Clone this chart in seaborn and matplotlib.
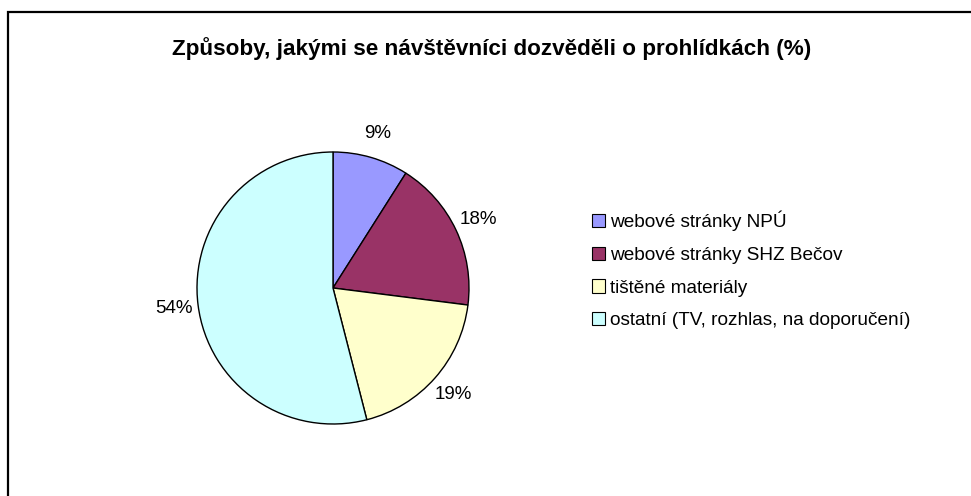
import matplotlib
matplotlib.use("Agg")
import matplotlib.pyplot as plt
import matplotlib.patches as mpatches
import seaborn as sns

categories = ["webové stránky NPÚ", "webové stránky SHZ Bečov",
              "tištěné materiály", "ostatní (TV, rozhlas, na doporučení)"]
shares = [9, 18, 19, 54]
colors = ["#9999FF", "#993366", "#FFFFCC", "#CCFFFF"]

sns.set_theme(style="white")
plt.rcParams["font.family"] = ["Liberation Sans", "DejaVu Sans"]
plt.rcParams["text.color"] = "black"

fig = plt.figure(figsize=(9.71, 4.96), dpi=100)

# pie area: square box in pixels
ax = fig.add_axes([197 / 971, 72 / 496, 272 / 971, 272 / 496])
wedges, texts, autotexts = ax.pie(
    shares, colors=colors, startangle=90, counterclock=False,
    autopct="%1.0f%%", pctdistance=1.18, radius=1,
    wedgeprops=dict(edgecolor="black", linewidth=1.0),
    textprops=dict(fontsize=13.5, color="black"))
ax.set_xlim(-1, 1)
ax.set_ylim(-1, 1)
ax.axis("off")

fig.text(0.506, 0.903, "Způsoby, jakými se návštěvníci dozvěděli o prohlídkách (%)",
         ha="center", va="center", fontsize=16.2, fontweight="bold", color="black")

handles = [mpatches.Patch(facecolor=c, edgecolor="black", linewidth=0.8) for c in colors]
fig.legend(handles, categories, loc="center left",
           bbox_to_anchor=(592 / 971, 1 - 270 / 496), frameon=False,
           fontsize=13.7, handlelength=0.68, handleheight=0.68,
           handletextpad=0.28, labelspacing=0.82, borderpad=0, borderaxespad=0)

# outer chart border (left and top edges visible)
top = 1 - 12 / 496
fig.patches.append(mpatches.Rectangle((8 / 971, -0.2), 1.2, top + 0.2,
                                      transform=fig.transFigure, fill=False,
                                      edgecolor="black", linewidth=1.6))

fig.savefig("out.png", dpi=100)
